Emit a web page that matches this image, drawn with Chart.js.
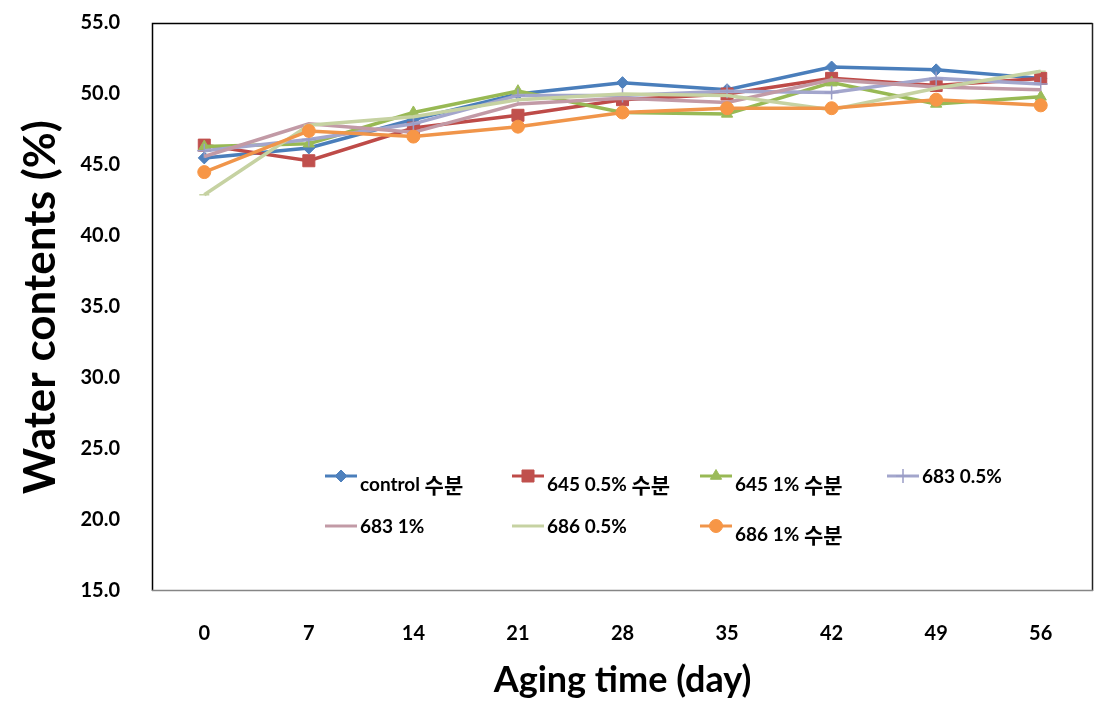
<!DOCTYPE html>
<html>
<head>
<meta charset="utf-8">
<script src="https://cdn.jsdelivr.net/npm/chart.js@4/dist/chart.umd.min.js"></script>
<style>
html,body{margin:0;padding:0;background:#fff;}
#wrap{width:1108px;height:711px;position:relative;}
</style>
</head>
<body>
<div id="wrap"><canvas id="c"></canvas></div>
<script>
const categories = ['0','7','14','21','28','35','42','49','56'];
const yTickLabels = ['15.0','20.0','25.0','30.0','35.0','40.0','45.0','50.0','55.0'];
const seriesNames = ['control 수분','645 0.5% 수분','645 1% 수분','683 0.5%','683 1%','686 0.5%','686 1% 수분'];
const control   = [45.5, 46.2, 48.2, 50.0, 50.8, 50.3, 51.9, 51.7, 51.1];
const s645_05   = [46.4, 45.3, 47.6, 48.5, 49.6, 50.0, 51.1, 50.6, 51.1];
const s645_1    = [46.3, 46.5, 48.7, 50.2, 48.7, 48.6, 50.8, 49.3, 49.8];
const s683_05   = [46.0, 46.8, 47.9, 49.9, 49.9, 50.2, 50.1, 51.1, 50.7];
const s683_1    = [45.6, 47.9, 47.3, 49.3, 49.7, 49.4, 51.0, 50.5, 50.3];
const s686_05   = [42.9, 47.8, 48.4, 49.6, 50.0, 49.9, 48.9, 50.4, 51.6];
const s686_1    = [44.5, 47.4, 47.0, 47.7, 48.7, 49.0, 49.0, 49.6, 49.2];

const styles = [
  {c:'#4A7EBB', m:'#4F81BD', p:'rectRot', r:6},
  {c:'#BE4B48', m:'#C0504D', p:'rect', r:8.5},
  {c:'#98B954', m:'#9BBB59', p:'triangle', r:6.5},
  {c:'#A3A6CC', m:'#9A9DC6', p:'cross', r:7},
  {c:'#C29AA6', m:'#C29AA6', p:false, r:0},
  {c:'#C6D2A2', m:'#C6D2A2', p:'line', r:5},
  {c:'#F0954A', m:'#F79646', p:'circle', r:6.5}
];
const allData = [control, s645_05, s645_1, s683_05, s683_1, s686_05, s686_1];

const datasets = allData.map((d,i)=>({
  label: seriesNames[i],
  data: d,
  borderColor: styles[i].c,
  backgroundColor: styles[i].m,
  pointBackgroundColor: styles[i].m,
  pointBorderColor: styles[i].m,
  pointStyle: styles[i].p || 'circle',
  pointRadius: styles[i].p ? styles[i].r : 0,
  pointHoverRadius: styles[i].p ? styles[i].r : 0,
  pointBorderWidth: (styles[i].p==='cross'||styles[i].p==='line') ? 1.5 : 1,
  borderWidth: 3.5,
  tension: 0,
  fill: false,
  order: allData.length - i
}));

const framePlugin = {
  id:'frame',
  beforeDatasetsDraw(chart){
    const a = chart.chartArea, ctx = chart.ctx;
    ctx.save();
    ctx.lineWidth = 1.5;
    ctx.strokeStyle = '#000';
    ctx.beginPath();
    ctx.moveTo(a.left+0.5, a.bottom); ctx.lineTo(a.left+0.5, a.top+0.5); ctx.lineTo(a.right-0.5, a.top+0.5);
    ctx.stroke();
    ctx.strokeStyle = '#222';
    ctx.beginPath();
    ctx.moveTo(a.right-0.5, a.top); ctx.lineTo(a.right-0.5, a.bottom);
    ctx.stroke();
    ctx.strokeStyle = '#868686';
    ctx.beginPath();
    ctx.moveTo(a.left, a.bottom-0.5); ctx.lineTo(a.right, a.bottom-0.5);
    ctx.stroke();
    ctx.restore();
  }
};

const legendCols = [325, 512, 700, 887];
const legendRows = [476, 526];
const legendPlugin = {
  id:'customLegend',
  afterDraw(chart){
    const ctx = chart.ctx;
    ctx.save();
    chart.data.datasets.forEach((ds,i)=>{
      const col = i % 4, row = Math.floor(i/4);
      const x0 = legendCols[col], y0 = legendRows[row];
      ctx.strokeStyle = ds.borderColor;
      ctx.lineWidth = 3;
      ctx.beginPath(); ctx.moveTo(x0, y0); ctx.lineTo(x0+32, y0); ctx.stroke();
      if (ds.pointRadius > 0 && Chart.helpers && Chart.helpers.drawPoint) {
        ctx.fillStyle = ds.pointBackgroundColor;
        ctx.strokeStyle = ds.pointBorderColor;
        ctx.lineWidth = ds.pointBorderWidth;
        Chart.helpers.drawPoint(ctx, {pointStyle: ds.pointStyle, radius: ds.pointRadius, borderWidth: ds.pointBorderWidth, rotation:0}, x0+16, y0);
      }
      const txt = ds.label;
      const hasKo = /[\uAC00-\uD7A3]/.test(txt);
      let x = x0 + 35;
      const base = y0 + (hasKo ? 15 : 7);
      ctx.fillStyle = '#000';
      ctx.textBaseline = 'alphabetic';
      ctx.textAlign = 'left';
      const parts = txt.split(/([\uAC00-\uD7A3]+)/).filter(s=>s.length);
      parts.forEach(p=>{
        const ko = /[\uAC00-\uD7A3]/.test(p);
        ctx.font = ko ? "bold 21px 'Noto Sans CJK KR'" : "bold 19px Lato, 'Noto Sans CJK KR'";
        ctx.fillText(p, x, base + (ko ? 2 : 0));
        x += ctx.measureText(p).width;
      });
    });
    ctx.restore();
  }
};

new Chart(document.getElementById('c'), {
  type:'line',
  data:{ labels: categories, datasets },
  options:{
    responsive:true,
    maintainAspectRatio:false,
    animation:false,
    layout:{ padding:{ top:23, right:15, left:0, bottom:0 } },
    plugins:{ legend:{display:false}, tooltip:{enabled:false} },
    scales:{
      x:{
        type:'category',
        offset:true,
        grid:{ display:false, drawTicks:false },
        border:{ display:false },
        ticks:{ color:'#000', font:{ family:'Lato', size:20, weight:'bold' }, padding:31, maxRotation:0 },
        title:{ display:true, text:'Aging time (day)', color:'#000', font:{ family:'Lato', size:36, weight:'bold' }, padding:{ top:0, bottom:9 } },
        afterFit(s){ s.height = 120; }
      },
      y:{
        min:15, max:55,
        grid:{ display:false, drawTicks:false },
        border:{ display:false },
        ticks:{ stepSize:5, color:'#000', font:{ family:'Lato', size:20, weight:'bold' }, padding:32,
          callback:(v)=>{ const idx = Math.round((v-15)/5); return yTickLabels[idx] !== undefined ? yTickLabels[idx] : v.toFixed(1); } },
        title:{ display:true, text:'Water contents (%)', color:'#000', font:{ family:'Lato', size:44, weight:'bold' }, padding:{ top:14, bottom:0 } },
        afterFit(s){ s.width = 152; s.paddingTop = 0; s.paddingBottom = 0; }
      }
    }
  },
  plugins:[framePlugin, legendPlugin]
});
</script>
</body>
</html>
